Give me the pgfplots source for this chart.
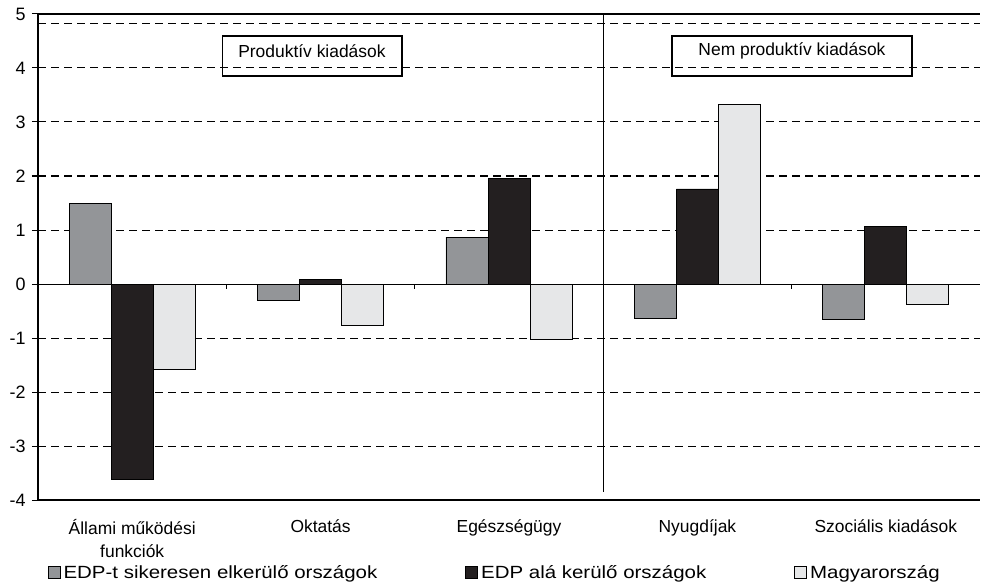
\documentclass[border=0pt]{standalone}
\usepackage{pgfplots}
\pgfplotsset{compat=1.18}
\usepackage{fontspec}
\setmainfont{Liberation Sans}
\newfontfamily\legfont[FakeStretch=1.16]{Liberation Sans}
\definecolor{cgray}{HTML}{939598}
\definecolor{cdark}{HTML}{231F20}
\definecolor{clight}{HTML}{E6E7E8}

\begin{document}
\begin{tikzpicture}[font=\fontsize{17.5}{22.5}\selectfont]
\begin{axis}[
  scale only axis,
  width=942bp, height=486bp,
  xmin=-0.5, xmax=4.5, ymin=-4, ymax=5,
  ybar=0pt, bar width=0.223,
  every axis plot post/.append style={
    legend image code/.code={\draw[#1,draw=black,line width=0.8bp] (0bp,-6bp) rectangle (12bp,6bp);}},
  axis x line*=bottom, axis y line*=left,
  axis line style={line width=1.3bp, -},
  tick align=outside,
  ytick={-4,-3,-2,-1,0,1,2,3,4,5},
  yticklabels={-4,-3,-2,-1,0,1,2,3,4,5},
  yticklabel style={xshift=-3bp, font=\fontsize{18}{22}\selectfont},
  major tick length=6bp,
  tick style={line width=1bp, black},
  xtick={0,1,2,3,4},
  xticklabels={{Állami működési\\funkciók},Oktatás,Egészségügy,Nyugdíjak,Szociális kiadások},
  x tick style={draw=none},
  xticklabel style={align=center, yshift=-10bp},
  ymajorgrids,
  y grid style={black, line width=1bp, dash pattern=on 8bp off 5bp},
  extra y ticks={4.82},
  extra y tick labels={},
  extra y tick style={grid=major, major tick length=0pt},
  legend columns=3,
  legend style={draw=none, fill=none, at={(axis description cs:0.007,0)}, anchor=north west,
    yshift=-61bp, font=\legfont\fontsize{17.7}{22}\selectfont,
    nodes={inner xsep=3bp},
    /tikz/every even column/.append style={column sep=85bp}},
]
\addplot[fill=cgray, draw=black, line width=0.8bp] coordinates {(0,1.50) (1,-0.30) (2,0.87) (3,-0.63) (4,-0.66)};
\addlegendentry{EDP-t sikeresen elkerülő országok}
\addplot[fill=cdark, draw=black, line width=0.8bp] coordinates {(0,-3.62) (1,0.09) (2,1.96) (3,1.76) (4,1.07)};
\addlegendentry{EDP alá kerülő országok}
\addplot[fill=clight, draw=black, line width=0.8bp] coordinates {(0,-1.58) (1,-0.77) (2,-1.02) (3,3.32) (4,-0.37)};
\addlegendentry{Magyarország}
% zero line, group ticks, top border, divider
\draw[black, line width=1bp] (axis cs:-0.5,0) -- (axis cs:4.5,0);
\draw[black, line width=1bp] (axis cs:0.5,0) -- ([yshift=-5bp]axis cs:0.5,0);
\draw[black, line width=1bp] (axis cs:1.5,0) -- ([yshift=-5bp]axis cs:1.5,0);
\draw[black, line width=1bp] (axis cs:3.5,0) -- ([yshift=-5bp]axis cs:3.5,0);
\draw[black, line width=1.3bp] (axis cs:-0.5,5) -- (axis cs:4.5,5);
\draw[black, line width=1bp] (axis cs:2.5,5) -- (axis cs:2.5,-3.85);
% section boxes
\draw[black, line width=1.1bp] (axis cs:0.477,4.593) rectangle (axis cs:1.432,3.852);
\node at (axis cs:0.954,4.32) {Produktív kiadások};
\draw[black, line width=1.1bp] (axis cs:2.865,4.593) rectangle (axis cs:4.139,3.852);
\node at (axis cs:3.502,4.32) {Nem produktív kiadások};
\coordinate (ll) at (rel axis cs:0,0);
\coordinate (ur) at (rel axis cs:1,1);
\end{axis}
\pgfresetboundingbox
\path ([xshift=-38bp,yshift=-82bp]ll) rectangle ([xshift=1bp,yshift=14bp]ur);
\end{tikzpicture}
\end{document}
